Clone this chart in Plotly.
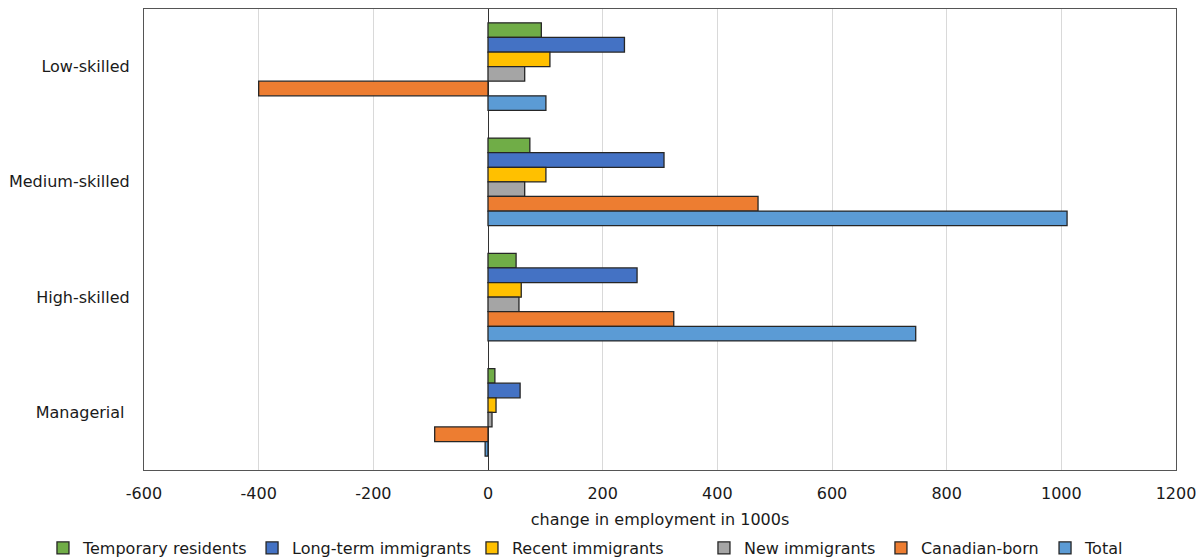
import plotly.graph_objects as go

categories = ["Low-skilled", "Medium-skilled", "High-skilled", "Managerial\u00a0"]
series_names = ["Temporary residents", "Long-term immigrants", "Recent immigrants",
                "New immigrants", "Canadian-born", "Total"]
temporary_residents = [93, 73, 49, 12]
long_term_immigrants = [238, 307, 260, 56]
recent_immigrants = [108, 101, 58, 14]
new_immigrants = [64, 64, 54, 7]
canadian_born = [-400, 471, 324, -93]
total = [101, 1010, 746, -5]
x_ticks = [-600, -400, -200, 0, 200, 400, 600, 800, 1000, 1200]

series_values = [temporary_residents, long_term_immigrants, recent_immigrants,
                 new_immigrants, canadian_born, total]
colors = ["#70AD47", "#4472C4", "#FFC000", "#A5A5A5", "#ED7D31", "#5B9BD5"]
legend_x = [-0.0979, 0.1047, 0.3178, 0.5426, 0.7141, 0.8731]

FONT = "DejaVu Sans"
FS = 16
fig = go.Figure()
legend_ids = ["legend"] + [f"legend{i}" for i in range(2, 7)]
for name, vals, col, lid in zip(series_names, series_values, colors, legend_ids):
    fig.add_trace(go.Bar(
        y=categories, x=vals, name=name, orientation="h", legend=lid,
        marker=dict(color=col, line=dict(color="#262626", width=1.3)),
    ))

layout_legends = {}
for lid, lx in zip(legend_ids, legend_x):
    layout_legends[lid] = dict(
        orientation="h", x=lx, xanchor="left", y=-0.1692, yanchor="middle",
        font=dict(family=FONT, size=FS, color="#1a1a1a"), itemwidth=30,
        bgcolor="rgba(0,0,0,0)")

fig.update_layout(
    width=1201, height=558,
    margin=dict(l=144, r=25, t=9, b=88, autoexpand=False),
    paper_bgcolor="white", plot_bgcolor="white",
    barmode="group", bargap=0.24, bargroupgap=0,
    font=dict(family=FONT, size=FS, color="#1a1a1a"),
    showlegend=True,
    xaxis=dict(range=[-600, 1200], tickvals=x_ticks, ticktext=[str(v) for v in x_ticks],
               showgrid=True, gridcolor="#d9d9d9", gridwidth=1,
               zeroline=True, zerolinecolor="#333333", zerolinewidth=1.3,
               showline=True, linecolor="#555555", linewidth=1.3, mirror=True,
               ticks="", tickfont=dict(size=FS), ticklabelstandoff=9, automargin=False,
               title=dict(text="change in employment in 1000s", font=dict(size=FS), standoff=11)),
    yaxis=dict(autorange="reversed", showgrid=False, zeroline=False,
               showline=True, linecolor="#555555", linewidth=1.3, mirror=True,
               ticks="", ticklabelstandoff=10, tickfont=dict(size=FS), automargin=False),
    **layout_legends,
)

fig.write_html(
    "out.html",
    config={"displayModeBar": False},
    post_script="document.body.style.margin='0';document.body.style.overflow='hidden';",
)
